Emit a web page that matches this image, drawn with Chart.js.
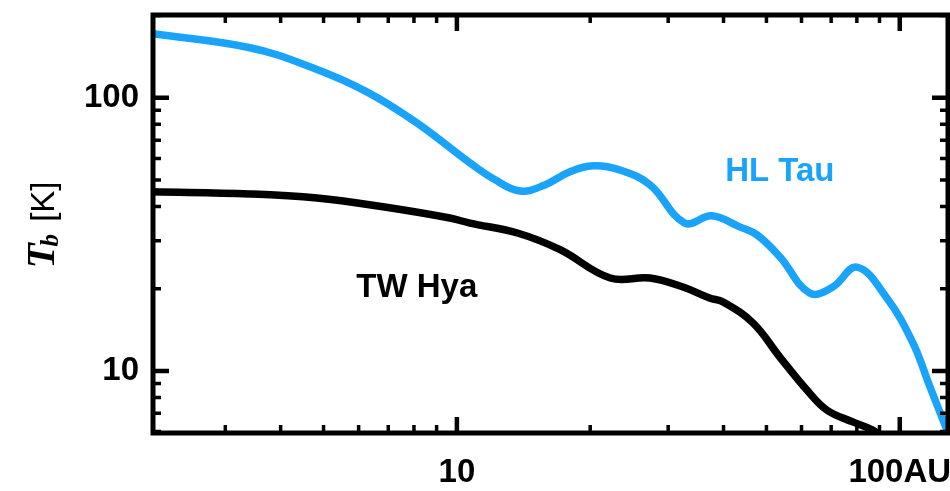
<!DOCTYPE html>
<html>
<head>
<meta charset="utf-8">
<script src="https://cdn.jsdelivr.net/npm/chart.js@4.4.1/dist/chart.umd.min.js"></script>
<style>
  html, body { margin: 0; padding: 0; background: #fff; }
  #wrap { width: 950px; height: 491px; }
</style>
</head>
<body>
<div id="wrap"><canvas id="charts" width="950" height="491"></canvas></div>
<script>
// radius in AU, brightness temperature in K
const radiusHL = [2.06, 3.41, 4.66, 6.26, 8.12, 10.7, 12.2, 13.9, 15.8, 18.0, 20.3, 23.3, 27.3, 32.7, 37.6, 43.5, 47.6, 53.6, 62.6, 70.6, 80.0, 93.5, 107, 117, 128.4, 131];
const tbHL     = [171.6, 152.5, 129.9, 105.2, 81.0, 57.8, 50.1, 45.6, 48.0, 53.6, 56.4, 54.5, 48.0, 34.8, 37.0, 33.7, 31.5, 26.2, 19.3, 20.3, 24.0, 18.5, 12.7, 8.74, 5.97, 5.5];

const radiusTW = [2.06, 3.41, 4.83, 6.81, 9.64, 10.7, 13.7, 17.1, 22.2, 27.3, 32.4, 37.2, 39.9, 46.6, 53.6, 61.7, 68.4, 78.3, 86.9, 90.1];
const tbTW     = [45.3, 44.5, 43.0, 39.9, 36.3, 34.8, 32.0, 27.8, 21.9, 21.9, 20.3, 18.5, 17.9, 15.0, 11.25, 8.52, 7.20, 6.51, 6.08, 5.78];

const xTickVals = [10, 100];
const xTickLabels = ['10', '100AU'];
const yTickVals = [10, 100];
const yTickLabels = ['10', '100'];

const blue = '#19a3fb';
const tickFont = { family: 'Liberation Sans', size: 33, weight: 'bold' };

function toPoints(xs, ys) {
    return xs.map((x, i) => ({ x: x, y: ys[i] }));
}

// frame + inward ticks on all four sides, plus series labels and y title
const framePlugin = {
    id: 'frame',
    afterDraw(chart) {
        const ctx = chart.ctx;
        const a = chart.chartArea;
        const xs = chart.scales.x;
        const ys = chart.scales.y;
        ctx.save();
        ctx.strokeStyle = '#000';
        ctx.lineWidth = 5;
        ctx.strokeRect(a.left, a.top, a.right - a.left, a.bottom - a.top);

        ctx.lineCap = 'butt';
        for (let d = 1; d <= 100; d *= 10) {
            for (let k = 1; k <= 9; k++) {
                const v = d * k;
                const major = k === 1;
                const len = major ? 16 : 8;
                ctx.lineWidth = major ? 4.5 : 3.5;
                if (v > xs.min && v < xs.max) {
                    const px = xs.getPixelForValue(v);
                    ctx.beginPath();
                    ctx.moveTo(px, a.bottom); ctx.lineTo(px, a.bottom - len);
                    ctx.moveTo(px, a.top); ctx.lineTo(px, a.top + len);
                    ctx.stroke();
                }
                if (v > ys.min && v < ys.max) {
                    const py = ys.getPixelForValue(v);
                    ctx.beginPath();
                    ctx.moveTo(a.left, py); ctx.lineTo(a.left + len, py);
                    ctx.moveTo(a.right, py); ctx.lineTo(a.right - len, py);
                    ctx.stroke();
                }
            }
        }

        // series labels
        ctx.font = 'bold 33px "Liberation Sans"';
        ctx.textAlign = 'center';
        ctx.textBaseline = 'middle';
        ctx.fillStyle = blue;
        ctx.fillText('HL Tau', xs.getPixelForValue(53.6), ys.getPixelForValue(53.5));
        ctx.fillStyle = '#000';
        ctx.fillText('TW Hya', xs.getPixelForValue(8.12), ys.getPixelForValue(20.1));

        // y axis title: T_b [K]
        ctx.translate(40, 225);
        ctx.rotate(-Math.PI / 2);
        ctx.textAlign = 'left';
        ctx.textBaseline = 'alphabetic';
        ctx.font = 'italic bold 41px "Liberation Serif"';
        const wT = ctx.measureText('T').width;
        ctx.font = 'italic bold 25px "Liberation Serif"';
        const wb = ctx.measureText('b').width;
        ctx.font = '33px "Liberation Sans"';
        const wK = ctx.measureText(' [K]').width;
        let x0 = -(wT + wb + wK) / 2;
        ctx.font = 'italic bold 41px "Liberation Serif"';
        ctx.fillText('T', x0, 14);
        ctx.font = 'italic bold 25px "Liberation Serif"';
        ctx.fillText('b', x0 + wT - 3, 18);
        ctx.font = '33px "Liberation Sans"';
        ctx.fillText(' [K]', x0 + wT + wb, 14);
        ctx.restore();
    }
};

const ctx = document.getElementById('charts').getContext('2d');

const chart = new Chart(ctx, {
    type: 'line',
    data: {
        datasets: [{
            label: 'HL Tau',
            data: toPoints(radiusHL, tbHL),
            borderColor: blue,
            borderWidth: 7.5,
            pointRadius: 0,
            tension: 0.4,
            fill: false
        }, {
            label: 'TW Hya',
            data: toPoints(radiusTW, tbTW),
            borderColor: '#000',
            borderWidth: 7.5,
            pointRadius: 0,
            tension: 0.4,
            fill: false
        }]
    },
    options: {
        responsive: false,
        animation: false,
        layout: { padding: { top: 15, right: 2, left: 0, bottom: 0 } },
        plugins: {
            legend: { display: false },
            tooltip: { enabled: false }
        },
        scales: {
            x: {
                type: 'logarithmic',
                min: 2.06,
                max: 128.5,
                grid: { display: false, drawTicks: false },
                border: { display: false },
                afterBuildTicks: (scale) => { scale.ticks = xTickVals.map(v => ({ value: v })) },
                afterFit: (scale) => {
                    scale.height = 58
                    scale.paddingLeft = 0
                    scale.paddingRight = 0
                },
                ticks: {
                    color: '#000',
                    font: tickFont,
                    padding: 20,
                    maxRotation: 0,
                    autoSkip: false,
                    callback: (value) => xTickLabels[xTickVals.indexOf(value)]
                }
            },
            y: {
                type: 'logarithmic',
                min: 5.93,
                max: 201,
                grid: { display: false, drawTicks: false },
                border: { display: false },
                afterBuildTicks: (scale) => { scale.ticks = yTickVals.map(v => ({ value: v })) },
                afterFit: (scale) => {
                    scale.width = 153
                    scale.paddingTop = 0
                    scale.paddingBottom = 0
                },
                ticks: {
                    color: '#000',
                    font: tickFont,
                    padding: 14,
                    autoSkip: false,
                    callback: (value) => yTickLabels[yTickVals.indexOf(value)]
                }
            }
        }
    },
    plugins: [framePlugin]
});
</script>
</body>
</html>
